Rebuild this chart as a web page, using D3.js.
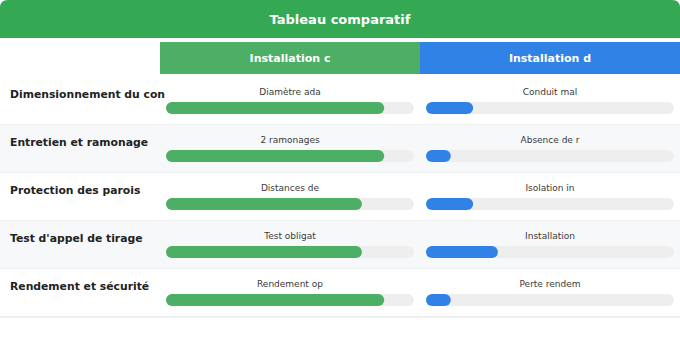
<!DOCTYPE html>
<html>
<head>
<meta charset="utf-8">
<script src="https://cdn.jsdelivr.net/npm/d3@7"></script>
<style>
  body { margin: 0; background: #fff; font-family: "DejaVu Sans", sans-serif; }
</style>
</head>
<body>
<div id="app"></div>
<script>
var title = 'Tableau comparatif';
var columns = ['Installation c', 'Installation d'];
var criteria = ['Dimensionnement du con', 'Entretien et ramonage', 'Protection des parois', "Test d'appel de tirage", 'Rendement et sécurité'];
var notesC = ['Diamètre ada', '2 ramonages', 'Distances de', 'Test obligat', 'Rendement op'];
var notesD = ['Conduit mal', 'Absence de r', 'Isolation in', 'Installation', 'Perte rendem'];
var scoresC = [88, 88, 79, 79, 88];
var scoresD = [19, 10, 19, 29, 10];

var width = 680, height = 350,
    titleH = 38,
    headTop = 42, headH = 32,
    labelW = 160,
    rowTop = 77, rowH = 48,
    pad = 6,
    barH = 12;

var colColors = ['#4caf65', '#3182e6'];

var svg = d3.select('#app').append('svg')
    .attr('width', width)
    .attr('height', height);

// title bar, rounded only on top
var r = 8;
svg.append('path')
    .attr('d', 'M0,' + titleH + ' V' + r + ' Q0,0 ' + r + ',0 H' + (width - r) + ' Q' + width + ',0 ' + width + ',' + r + ' V' + titleH + ' Z')
    .attr('fill', '#34a853');
svg.append('text')
    .attr('x', width / 2)
    .attr('y', titleH / 2 + 5)
    .attr('text-anchor', 'middle')
    .attr('fill', '#fff')
    .style('font-size', '13px')
    .style('font-weight', 'bold')
    .text(title);

var x = d3.scaleBand().domain(columns).range([labelW, width]);
var y = d3.scaleBand().domain(criteria).range([rowTop, rowTop + rowH * criteria.length]);
var v = d3.scaleLinear().domain([0, 100]).range([0, x.bandwidth() - 2 * pad]);

// column headers
var head = svg.selectAll('g.head').data(columns).enter().append('g').attr('class', 'head');
head.append('rect')
    .attr('x', function(d) { return x(d); })
    .attr('y', headTop)
    .attr('width', x.bandwidth())
    .attr('height', headH)
    .attr('fill', function(d, i) { return colColors[i]; });
head.append('text')
    .attr('x', function(d) { return x(d) + x.bandwidth() / 2; })
    .attr('y', headTop + headH / 2 + 4)
    .attr('text-anchor', 'middle')
    .attr('fill', '#fff')
    .style('font-size', '11px')
    .style('font-weight', 'bold')
    .text(function(d) { return d; });

// rows
var rows = svg.selectAll('g.row').data(criteria).enter().append('g').attr('class', 'row');
rows.append('rect')
    .attr('x', 0)
    .attr('y', function(d) { return y(d); })
    .attr('width', width)
    .attr('height', y.bandwidth() - 1)
    .attr('fill', function(d, i) { return i % 2 ? '#f7f8fa' : '#fff'; });
rows.append('rect')
    .attr('x', 0)
    .attr('y', function(d) { return y(d) + y.bandwidth() - 1; })
    .attr('width', width)
    .attr('height', function(d, i) { return i === criteria.length - 1 ? 2 : 1; })
    .attr('fill', '#eeeff1');
rows.append('text')
    .attr('x', 10)
    .attr('y', function(d) { return y(d) + 21; })
    .attr('fill', '#222')
    .style('font-size', '10.8px')
    .style('font-weight', 'bold')
    .text(function(d) { return d; });

var series = [
  { col: columns[0], notes: notesC, scores: scoresC, color: colColors[0] },
  { col: columns[1], notes: notesD, scores: scoresD, color: colColors[1] }
];

series.forEach(function(s) {
  var cells = svg.selectAll(null).data(criteria).enter().append('g');
  cells.append('text')
      .attr('x', x(s.col) + x.bandwidth() / 2)
      .attr('y', function(d) { return y(d) + 18; })
      .attr('text-anchor', 'middle')
      .attr('fill', '#3a3a3a')
      .style('font-size', '9px')
      .text(function(d, i) { return s.notes[i]; });
  cells.append('rect')
      .attr('x', x(s.col) + pad)
      .attr('y', function(d) { return y(d) + 25; })
      .attr('width', x.bandwidth() - 2 * pad)
      .attr('height', barH)
      .attr('rx', barH / 2)
      .attr('fill', '#eeeeee');
  cells.append('rect')
      .attr('x', x(s.col) + pad)
      .attr('y', function(d) { return y(d) + 25; })
      .attr('width', function(d, i) { return v(s.scores[i]); })
      .attr('height', barH)
      .attr('rx', barH / 2)
      .attr('fill', s.color);
});
</script>
</body>
</html>
